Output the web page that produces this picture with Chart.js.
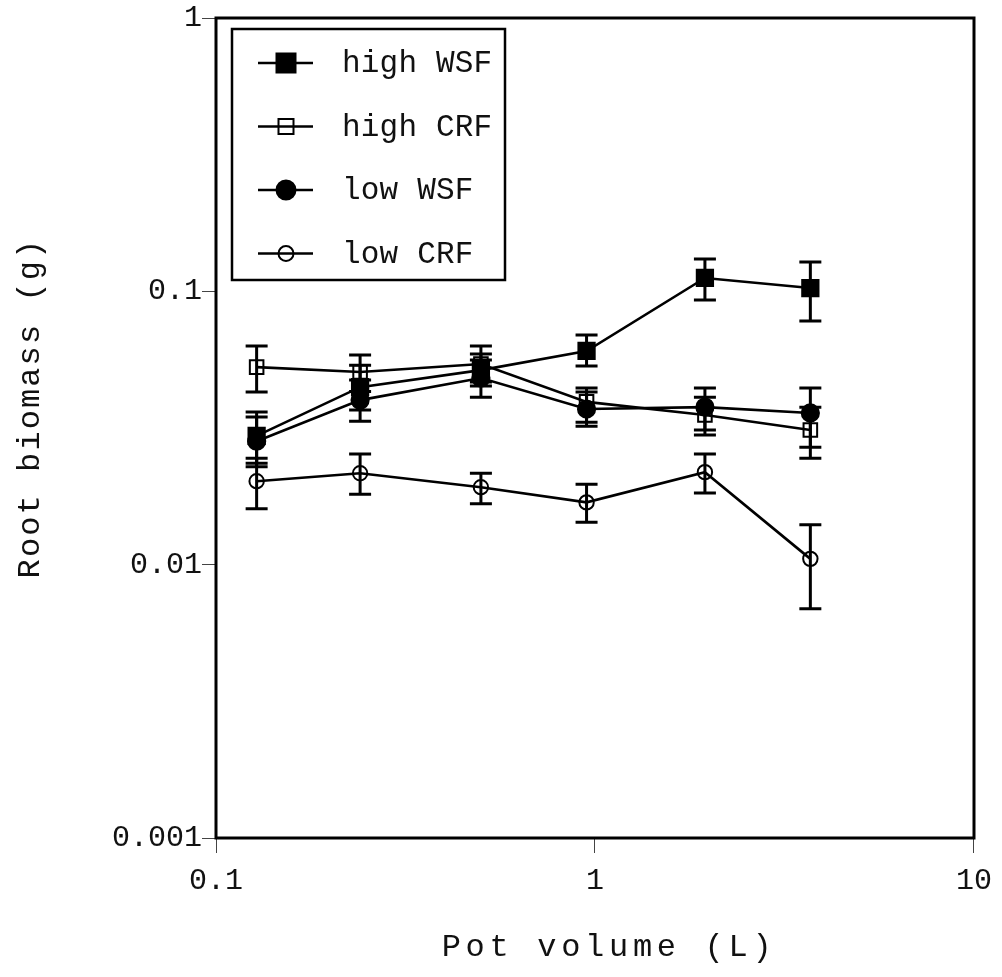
<!DOCTYPE html>
<html><head><meta charset="utf-8">
<script src="https://cdn.jsdelivr.net/npm/chart.js@4.4.0/dist/chart.umd.min.js"></script>
<style>html,body{margin:0;padding:0;background:#fff;} canvas{display:block;}</style>
</head><body>
<canvas id="c" width="1002" height="977"></canvas>
<script>
// ---- data ----
const potVolume = [0.128, 0.24, 0.5, 0.95, 1.95, 3.7];

const highWSF      = [0.0296, 0.0446, 0.0515, 0.0605, 0.1119, 0.1028];
const highWSFUpper = [0.0362, 0.0537, 0.0590, 0.0692, 0.1313, 0.1280];
const highWSFLower = [0.0235, 0.0368, 0.0450, 0.0533, 0.0929, 0.0779];

const highCRF      = [0.0528, 0.0507, 0.0542, 0.0394, 0.0353, 0.0311];
const highCRFUpper = [0.0631, 0.0585, 0.0631, 0.0443, 0.0410, 0.0377];
const highCRFLower = [0.0428, 0.0430, 0.0466, 0.0332, 0.0298, 0.0245];

const lowWSF       = [0.0283, 0.0400, 0.0482, 0.0371, 0.0377, 0.0359];
const lowWSFUpper  = [0.0347, 0.0474, 0.0561, 0.0428, 0.0443, 0.0443];
const lowWSFLower  = [0.0228, 0.0335, 0.0410, 0.0321, 0.0311, 0.0269];

const lowCRF       = [0.0202, 0.0216, 0.0192, 0.0169, 0.0218, 0.0105];
const lowCRFUpper  = [0.0245, 0.0254, 0.0216, 0.0197, 0.0254, 0.0140];
const lowCRFLower  = [0.0160, 0.0181, 0.0167, 0.0143, 0.0183, 0.0069];

const seriesNames = ['high WSF', 'high CRF', 'low WSF', 'low CRF'];
const xTickValues = [0.1, 1, 10];
const yTickValues = [0.001, 0.01, 0.1, 1];
const xTitle = 'Pot volume (L)';
const yTitle = 'Root biomass (g)';

// ---- styling ----
const FONT = '"Liberation Mono", "Courier New", monospace';
const markerStyles = [
  {shape: 'rect',   filled: true,  r: 11.5, legendSide: 19},
  {shape: 'rect',   filled: false, r: 9.6,  legendSide: 15},
  {shape: 'circle', filled: true,  r: 8.6,  legendSide: 19},
  {shape: 'circle', filled: false, r: 7.2,  legendSide: 15}
];

const seriesValues = [highWSF, highCRF, lowWSF, lowCRF];
const seriesUpper = [highWSFUpper, highCRFUpper, lowWSFUpper, lowCRFUpper];
const seriesLower = [highWSFLower, highCRFLower, lowWSFLower, lowCRFLower];

const datasets = seriesNames.map((name, i) => {
  const m = markerStyles[i];
  return {
    label: name,
    data: potVolume.map((x, j) => ({x: x, y: seriesValues[i][j]})),
    errUpper: seriesUpper[i],
    errLower: seriesLower[i],
    borderColor: '#000',
    borderWidth: 2.6,
    pointStyle: m.shape,
    pointRadius: m.r,
    pointHoverRadius: m.r,
    pointBorderWidth: 2,
    pointBorderColor: '#000',
    pointBackgroundColor: m.filled ? '#000' : 'rgba(0,0,0,0)',
    fill: false,
    tension: 0
  };
});

function drawMarker(ctx, shape, filled, size, x, y) {
  ctx.save();
  ctx.lineWidth = 2;
  ctx.strokeStyle = '#000';
  ctx.fillStyle = '#000';
  ctx.beginPath();
  if (shape === 'rect') {
    ctx.rect(x - size / 2, y - size / 2, size, size);
  } else {
    ctx.arc(x, y, size / 2, 0, Math.PI * 2);
  }
  if (filled) ctx.fill();
  ctx.stroke();
  ctx.restore();
}

const framePlugin = {
  id: 'frame',
  beforeDatasetsDraw(chart) {
    const {ctx, chartArea: a} = chart;
    ctx.save();
    ctx.strokeStyle = '#000';
    ctx.lineWidth = 3;
    ctx.strokeRect(a.left, a.top, a.right - a.left, a.bottom - a.top);
    ctx.restore();
  }
};

const errorBarPlugin = {
  id: 'errorBars',
  afterDatasetsDraw(chart) {
    const {ctx} = chart;
    const xs = chart.scales.x, ys = chart.scales.y;
    ctx.save();
    ctx.strokeStyle = '#000';
    ctx.lineWidth = 3;
    chart.data.datasets.forEach(ds => {
      ds.data.forEach((p, j) => {
        const px = xs.getPixelForValue(p.x);
        const yt = ys.getPixelForValue(ds.errUpper[j]);
        const yb = ys.getPixelForValue(ds.errLower[j]);
        const hw = 11;
        ctx.beginPath();
        ctx.moveTo(px, yt); ctx.lineTo(px, yb);
        ctx.moveTo(px - hw, yt); ctx.lineTo(px + hw, yt);
        ctx.moveTo(px - hw, yb); ctx.lineTo(px + hw, yb);
        ctx.stroke();
      });
    });
    ctx.restore();
  }
};

const legendPlugin = {
  id: 'boxLegend',
  afterDraw(chart) {
    const {ctx, chartArea: a} = chart;
    const bx = a.left + 16, by = a.top + 11, bw = 273, bh = 251;
    ctx.save();
    ctx.strokeStyle = '#000';
    ctx.lineWidth = 2.5;
    ctx.strokeRect(bx, by, bw, bh);
    ctx.font = '31px ' + FONT;
    ctx.fillStyle = '#111';
    ctx.textBaseline = 'middle';
    ctx.textAlign = 'left';
    try { ctx.letterSpacing = '0.2px'; } catch (e) {}
    chart.data.datasets.forEach((ds, i) => {
      const y = by + 34 + i * 63.5;
      ctx.beginPath();
      ctx.lineWidth = 2.6;
      ctx.moveTo(bx + 26, y); ctx.lineTo(bx + 81, y);
      ctx.stroke();
      const m = markerStyles[i];
      drawMarker(ctx, m.shape, m.filled, m.legendSide, bx + 54, y);
      ctx.fillText(ds.label, bx + 110, y + 1);
    });
    ctx.restore();
  }
};

const titlePlugin = {
  id: 'axisTitles',
  afterDraw(chart) {
    const {ctx, chartArea: a} = chart;
    ctx.save();
    ctx.fillStyle = '#111';
    ctx.font = '32px ' + FONT;
    ctx.textAlign = 'center';
    ctx.textBaseline = 'alphabetic';
    try { ctx.letterSpacing = '4.7px'; } catch (e) {}
    ctx.fillText(xTitle, (a.left + a.right) / 2 + 14, 956);
    try { ctx.letterSpacing = '2.1px'; } catch (e) {}
    ctx.translate(39, (a.top + a.bottom) / 2 - 20);
    ctx.rotate(-Math.PI / 2);
    ctx.fillText(yTitle, 0, 0);
    ctx.restore();
  }
};

new Chart(document.getElementById('c'), {
  type: 'line',
  data: {datasets: datasets},
  plugins: [framePlugin, errorBarPlugin, legendPlugin, titlePlugin],
  options: {
    responsive: false,
    animation: false,
    events: [],
    layout: {padding: {top: 18, right: 27, left: 0, bottom: 0}},
    plugins: {legend: {display: false}, tooltip: {enabled: false}},
    scales: {
      x: {
        type: 'logarithmic',
        min: 0.1, max: 10,
        afterBuildTicks: s => { s.ticks = xTickValues.map(v => ({value: v})); },
        afterFit: s => { s.height = 139; },
        ticks: {
          callback: v => String(v),
          font: {family: FONT, size: 30},
          color: '#111',
          padding: 10,
          maxRotation: 0,
          autoSkip: false
        },
        grid: {display: true, drawOnChartArea: false, drawTicks: true, tickLength: 15, color: '#444', lineWidth: 1},
        border: {display: false}
      },
      y: {
        type: 'logarithmic',
        min: 0.001, max: 1,
        afterBuildTicks: s => { s.ticks = yTickValues.map(v => ({value: v})); },
        afterFit: s => { s.width = 216; },
        ticks: {
          callback: v => String(v),
          font: {family: FONT, size: 30},
          color: '#111',
          padding: 0,
          autoSkip: false
        },
        grid: {display: true, drawOnChartArea: false, drawTicks: true, tickLength: 14, color: '#444', lineWidth: 1},
        border: {display: false}
      }
    }
  }
});
</script>
</body></html>
